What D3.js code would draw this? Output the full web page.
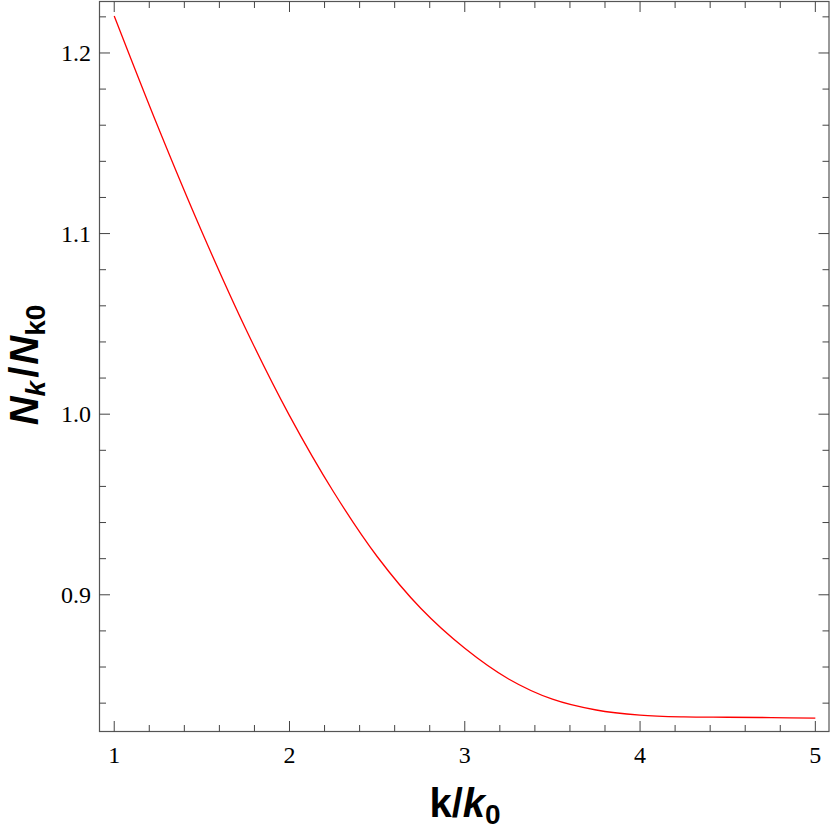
<!DOCTYPE html>
<html><head><meta charset="utf-8">
<script src="https://cdn.jsdelivr.net/npm/d3@7"></script>
<style>body{margin:0;background:#fff}</style>
</head><body>
<svg id="c" width="830" height="830"></svg>
<script>
const kValues = [1.0,1.25,1.5,1.75,2.0,2.25,2.5,2.75,3.0,3.25,3.5,3.75,4.0,4.25,4.5,4.75,5.0];
const ratioValues = [1.2205,1.159,1.101,1.0473,0.9992,0.9572,0.9212,0.8924,0.8704,0.8534,0.8422,0.8362,0.8334,0.8324,0.8322,0.8320,0.8317];
const xMajorTicks = [1,2,3,4,5];
const yMajorTicks = [0.9,1.0,1.1,1.2];

const svg = d3.select("#c");
const L=99.5, R=829, T=1.5, B=731.5;
const x = d3.scaleLinear().domain([0.916,5.078]).range([L,R]);
const y = d3.scaleLinear().domain([0.8243,1.2285]).range([B,T]);

const frameColor="#555", tickColor="#444";
svg.append("rect").attr("x",L).attr("y",T).attr("width",R-L).attr("height",B-T)
  .attr("fill","none").attr("stroke",frameColor).attr("stroke-width",1.2);

const xMinor = d3.range(1,5.0001,0.2).map(v=>+v.toFixed(2));
const yMinor = d3.range(0.84,1.2201,0.02).map(v=>+v.toFixed(2));
const isMajX = v=>xMajorTicks.some(t=>Math.abs(t-v)<1e-6);
const isMajY = v=>yMajorTicks.some(t=>Math.abs(t-v)<1e-6);

const g = svg.append("g").attr("stroke",tickColor).attr("stroke-width",1);
xMinor.forEach(v=>{
  const len = isMajX(v)?10.5:6.5;
  g.append("line").attr("x1",x(v)).attr("x2",x(v)).attr("y1",B).attr("y2",B-len);
  g.append("line").attr("x1",x(v)).attr("x2",x(v)).attr("y1",T).attr("y2",T+len);
});
yMinor.forEach(v=>{
  const len = isMajY(v)?10.5:6.5;
  g.append("line").attr("y1",y(v)).attr("y2",y(v)).attr("x1",L).attr("x2",L+len);
  g.append("line").attr("y1",y(v)).attr("y2",y(v)).attr("x1",R).attr("x2",R-len);
});

const serif = "'Liberation Serif','Times New Roman',serif";
svg.append("g").selectAll("text").data(xMajorTicks).join("text")
  .attr("x",d=>x(d)).attr("y",763).attr("text-anchor","middle")
  .attr("font-family",serif).attr("font-size",24).attr("fill","#000").text(d=>d3.format("d")(d));
svg.append("g").selectAll("text").data(yMajorTicks).join("text")
  .attr("x",91).attr("y",d=>y(d)+8).attr("text-anchor","end")
  .attr("font-family",serif).attr("font-size",24).attr("fill","#000").text(d=>d3.format(".1f")(d));

const line = d3.line().x((d,i)=>x(kValues[i])).y(d=>y(d)).curve(d3.curveCatmullRom.alpha(0.5));
svg.append("path").attr("d",line(ratioValues)).attr("fill","none")
  .attr("stroke","#ff0000").attr("stroke-width",1.3);

const sans = "'Liberation Sans',Arial,Helvetica,sans-serif";
// x title
const xt = svg.append("text").attr("x",465).attr("y",817).attr("text-anchor","middle")
  .attr("font-family",sans).attr("font-weight","bold").attr("font-size",40).attr("fill","#000");
xt.append("tspan").text("k/");
xt.append("tspan").attr("font-style","italic").text("k");
xt.append("tspan").attr("font-size",28).attr("dy",7).text("0");

// y title
const yt = svg.append("text").attr("transform","translate(38,365) rotate(-90)").attr("text-anchor","middle")
  .attr("font-family",sans).attr("font-weight","bold").attr("font-size",40).attr("fill","#000");
yt.append("tspan").attr("font-style","italic").text("N");
yt.append("tspan").attr("font-style","italic").attr("font-size",28).attr("dy",7).text("k");
yt.append("tspan").attr("dy",-7).attr("dx",3).text("/");
yt.append("tspan").attr("font-style","italic").attr("dx",2).text("N");
yt.append("tspan").attr("font-size",28).attr("dy",7).text("k0");
</script>
</body></html>
